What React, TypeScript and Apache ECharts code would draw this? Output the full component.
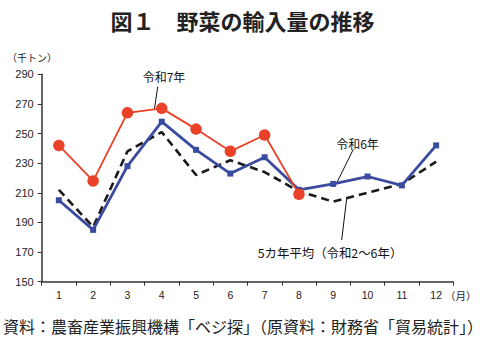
import React, { useEffect, useRef } from "react";
import * as echarts from "echarts";

const months = ["1", "2", "3", "4", "5", "6", "7", "8", "9", "10", "11", "12"];
const reiwa7 = [242, 218, 264, 267, 253, 238, 249, 209, null, null, null, null];
const reiwa6 = [205, 185, 228, 258, 239, 223, 234, 212, 216, 221, 215, 242];
const avg5 = [212, 187, 238, 251, 222, 232, 224, 211, 204, 210, 216, 231];
const yTicks = { min: 150, max: 290, interval: 20 };

const JP = "'Noto Sans CJK JP', 'Liberation Sans', sans-serif";
const NUM = "'Liberation Sans', 'Noto Sans CJK JP', sans-serif";

export default function App() {
  const ref = useRef<HTMLDivElement>(null);
  useEffect(() => {
    const chart = echarts.init(ref.current!, null, { renderer: "svg" });
    chart.setOption({
      animation: false,
      backgroundColor: "#ffffff",
      grid: { left: 41.7, right: 31.7, top: 74.3, bottom: 60.3 },
      xAxis: {
        type: "category",
        data: months,
        boundaryGap: true,
        axisLine: { lineStyle: { color: "#333", width: 1.5 } },
        axisTick: { show: true, length: 4, inside: false, lineStyle: { color: "#333" } },
        axisLabel: { color: "#222", fontSize: 10.5, fontFamily: NUM, margin: 8 },
        splitLine: { show: false },
      },
      yAxis: {
        type: "value",
        min: yTicks.min,
        max: yTicks.max,
        interval: yTicks.interval,
        axisLine: { show: true, lineStyle: { color: "#333", width: 1.5 } },
        axisTick: { show: true, length: 4, lineStyle: { color: "#333" } },
        axisLabel: { color: "#222", fontSize: 11, fontFamily: NUM, margin: 8 },
        splitLine: { show: false },
      },
      series: [
        {
          name: "5カ年平均（令和2～6年）",
          type: "line",
          data: avg5,
          symbol: "none",
          lineStyle: { color: "#1a1a1a", width: 2.6, type: [8, 5] },
          z: 2,
        },
        {
          name: "令和6年",
          type: "line",
          data: reiwa6,
          symbol: "rect",
          symbolSize: 6,
          itemStyle: { color: "#3B4BA0" },
          lineStyle: { color: "#3B4BA0", width: 2.8 },
          z: 3,
        },
        {
          name: "令和7年",
          type: "line",
          data: reiwa7,
          symbol: "circle",
          symbolSize: 11.5,
          itemStyle: { color: "#EA4128" },
          lineStyle: { color: "#EA4128", width: 1.8 },
          z: 4,
        },
      ],
      graphic: [
        {
          type: "text",
          left: "center",
          top: 9,
          style: {
            text: "図１　野菜の輸入量の推移",
            fontSize: 22,
            fontWeight: "bold",
            fontFamily: JP,
            fill: "#222",
          },
        },
        {
          type: "text",
          x: 7,
          y: 52,
          style: { text: "（千トン）", fontSize: 10, fontFamily: JP, fill: "#222" },
        },
        {
          type: "text",
          x: 445,
          y: 295,
          style: { text: "（月）", fontSize: 10.5, fontFamily: JP, fill: "#222", verticalAlign: "middle" },
        },
        {
          type: "text",
          x: 243,
          y: 326,
          style: {
            text: "資料：農畜産業振興機構「ベジ探」（原資料：財務省「貿易統計」）",
            fontSize: 16,
            fontFamily: JP,
            fill: "#222",
            align: "center",
            verticalAlign: "middle",
          },
        },
        {
          type: "text",
          x: 164,
          y: 76.5,
          style: { text: "令和7年", fontSize: 12, fontFamily: JP, fill: "#111", align: "center", verticalAlign: "middle" },
        },
        {
          type: "line",
          shape: { x1: 157.7, y1: 86.7, x2: 154.3, y2: 110 },
          style: { stroke: "#111", lineWidth: 1 },
        },
        {
          type: "text",
          x: 357.5,
          y: 143,
          style: { text: "令和6年", fontSize: 12, fontFamily: JP, fill: "#111", align: "center", verticalAlign: "middle" },
        },
        {
          type: "line",
          shape: { x1: 353.3, y1: 149.3, x2: 336.7, y2: 183 },
          style: { stroke: "#111", lineWidth: 1 },
        },
        {
          type: "text",
          x: 330,
          y: 253,
          style: {
            text: "5カ年平均（令和2～6年）",
            fontSize: 12.4,
            fontFamily: JP,
            fill: "#111",
            align: "center",
            verticalAlign: "middle",
          },
        },
        {
          type: "line",
          shape: { x1: 346.7, y1: 198.3, x2: 341.7, y2: 240 },
          style: { stroke: "#111", lineWidth: 1 },
        },
      ],
    });
    return () => chart.dispose();
  }, []);
  return <div ref={ref} style={{ width: 485, height: 342, position: "fixed", left: 0, top: 0 }} />;
}
